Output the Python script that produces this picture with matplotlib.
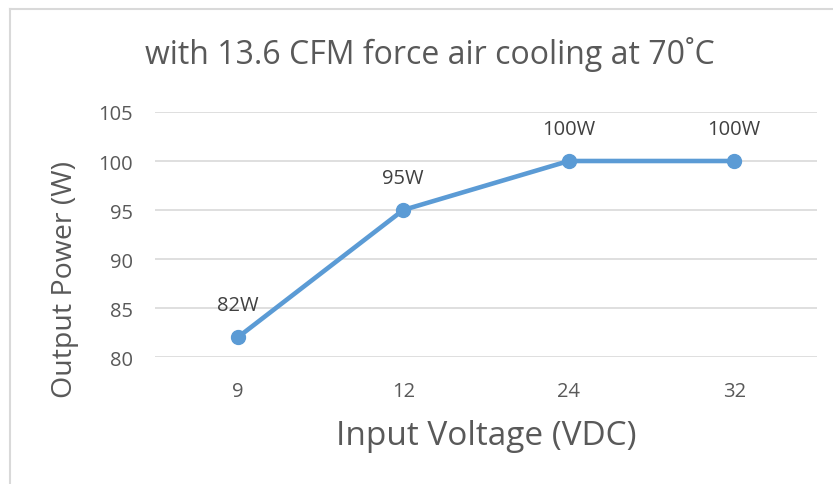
import matplotlib
matplotlib.use("Agg")
import matplotlib.pyplot as plt
from matplotlib.lines import Line2D

plt.rcParams['font.family'] = ['Open Sans', 'DejaVu Sans']

categories = ["9", "12", "24", "32"]
power = [82, 95, 100, 100]
labels = ["82W", "95W", "100W", "100W"]
yticks = [80, 85, 90, 95, 100, 105]

fig = plt.figure(figsize=(8.33, 4.85), dpi=100)
# outer chart border (left and top visible)
fig.add_artist(Line2D([10/833, 10/833], [0, 1 - 10/485], transform=fig.transFigure,
                      color="#d9d9d9", lw=1.5))
fig.add_artist(Line2D([10/833, 1], [1 - 10/485, 1 - 10/485], transform=fig.transFigure,
                      color="#d9d9d9", lw=1.5))

ax = fig.add_axes([155/833, 1 - 358/485, (817 - 155)/833, (358 - 113)/485])
x = list(range(len(categories)))
ax.plot(x, power, color="#5B9BD5", lw=3.3, marker="o", markersize=10,
        solid_capstyle="round", zorder=3)
for xi, yi, lab in zip(x, power, labels):
    ax.annotate(lab, (xi, yi), xytext=(0, 23), textcoords="offset points",
                ha="center", va="center", fontsize=14.5, color="#404040")

ax.set_xlim(-0.5, len(categories) - 0.5)
ax.set_ylim(80, 105)
ax.set_yticks(yticks)
ax.set_xticks(x)
ax.set_xticklabels(categories)
ax.grid(axis="y", color="#d9d9d9", lw=1.2)
ax.set_axisbelow(True)
for s in ax.spines.values():
    s.set_visible(False)
ax.tick_params(length=0, labelsize=14.5, labelcolor="#595959")
ax.tick_params(axis="x", pad=17)
ax.tick_params(axis="y", pad=16)

ax.set_xlabel("Input Voltage (VDC)", fontsize=24, color="#595959")
ax.set_ylabel("Output Power (W)", fontsize=20.5, color="#595959")
ax.xaxis.label.set_va("center")
ax.yaxis.label.set_va("center")
ax.xaxis.set_label_coords(0.5, (358 - 437) / 245)
ax.yaxis.set_label_coords((65 - 155) / 662, (358 - 280) / 245)
fig.text(430/833, 1 - 55/485, "with 13.6 CFM force air cooling at 70\u02daC",
         ha="center", va="center", fontsize=23, color="#595959")

fig.savefig("out.png", dpi=100)
